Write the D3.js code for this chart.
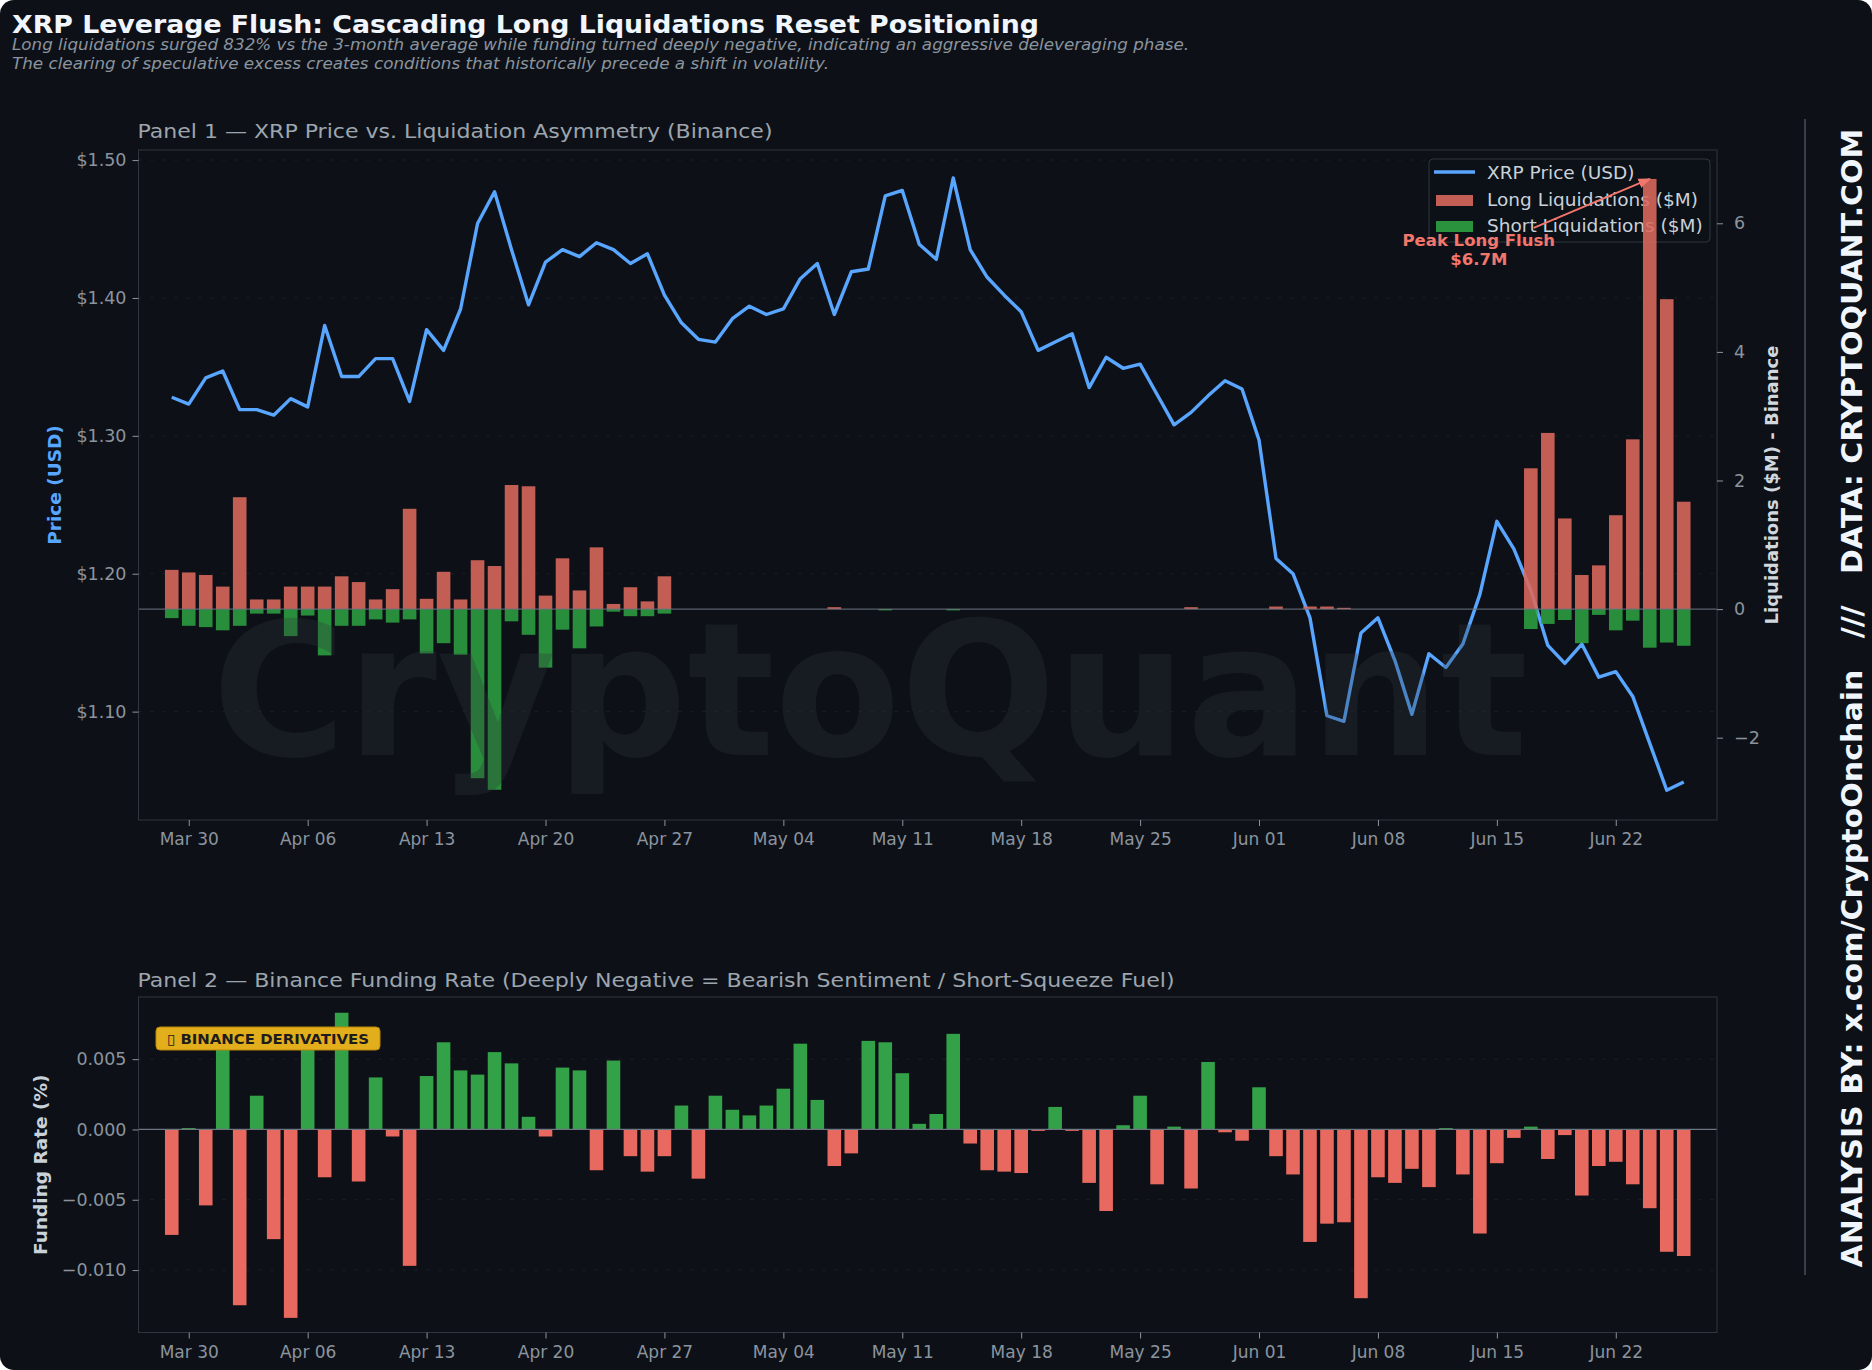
<!DOCTYPE html>
<html>
<head>
<meta charset="utf-8">
<script src="https://cdn.jsdelivr.net/npm/d3@7"></script>
<style>
html, body { margin: 0; padding: 0; background: #fff; }
svg { display: block; }
text { font-family: "DejaVu Sans", sans-serif; }
</style>
</head>
<body>
<svg></svg>
<script>
var w = 1872, h = 1370

// ---- data (daily, Binance) ----
var startDay = "2026-03-29"
var prices = [
    1.328, 1.323, 1.342, 1.347, 1.319, 1.319, 1.315, 1.327, 1.321, 1.380,
    1.343, 1.343, 1.356, 1.356, 1.325, 1.377, 1.362, 1.392, 1.454, 1.477,
    1.435, 1.395, 1.426, 1.435, 1.430, 1.440, 1.435, 1.425, 1.432, 1.402,
    1.382, 1.370, 1.368, 1.385, 1.394, 1.388, 1.392, 1.414, 1.425, 1.388,
    1.419, 1.421, 1.474, 1.478, 1.439, 1.428, 1.487, 1.435, 1.415, 1.402,
    1.390, 1.362, 1.368, 1.374, 1.335, 1.357, 1.349, 1.352, 1.330, 1.308,
    1.317, 1.329, 1.340, 1.334, 1.297, 1.211, 1.200, 1.168, 1.097, 1.093,
    1.157, 1.168, 1.137, 1.098, 1.142, 1.132, 1.149, 1.185, 1.238, 1.218,
    1.188, 1.148, 1.135, 1.149, 1.125, 1.129, 1.111, 1.077, 1.043, 1.049
]
var longLiq = [
    0.61, 0.57, 0.53, 0.35, 1.74, 0.15, 0.15, 0.35, 0.35, 0.35,
    0.51, 0.42, 0.15, 0.31, 1.56, 0.16, 0.58, 0.15, 0.76, 0.67,
    1.93, 1.91, 0.21, 0.79, 0.29, 0.96, 0.08, 0.34, 0.12, 0.51,
    0, 0, 0, 0, 0, 0, 0, 0, 0, 0.03,
    0, 0, 0, 0, 0, 0, 0, 0, 0, 0,
    0, 0, 0, 0, 0, 0, 0, 0, 0, 0,
    0.03, 0, 0, 0, 0, 0.04, 0, 0.04, 0.04, 0.02,
    0, 0, 0, 0, 0, 0, 0, 0, 0, 0,
    2.19, 2.74, 1.41, 0.53, 0.68, 1.46, 2.64, 6.69, 4.82, 1.67
]
var shortLiq = [
    0.14, 0.26, 0.28, 0.33, 0.26, 0.07, 0.07, 0.42, 0.10, 0.72,
    0.26, 0.26, 0.16, 0.21, 0.16, 0.69, 0.53, 0.71, 2.63, 2.81,
    0.19, 0.40, 0.91, 0.32, 0.61, 0.27, 0.04, 0.11, 0.11, 0.07,
    0, 0, 0, 0, 0, 0, 0, 0, 0, 0,
    0, 0, 0.02, 0, 0, 0, 0.02, 0, 0, 0,
    0, 0, 0, 0, 0, 0, 0, 0, 0, 0,
    0, 0, 0, 0, 0, 0, 0, 0, 0, 0,
    0, 0, 0, 0, 0, 0, 0, 0, 0, 0,
    0.31, 0.23, 0.17, 0.53, 0.09, 0.33, 0.18, 0.60, 0.52, 0.57
]
var funding = [
    -0.0075, 0.0001, -0.0054, 0.0065, -0.0125, 0.0024, -0.0078, -0.0134, 0.0062, -0.0034,
    0.0083, -0.0037, 0.0037, -0.0005, -0.0097, 0.0038, 0.0062, 0.0042, 0.0039, 0.0055,
    0.0047, 0.0009, -0.0005, 0.0044, 0.0042, -0.0029, 0.0049, -0.0019, -0.0030, -0.0019,
    0.0017, -0.0035, 0.0024, 0.0014, 0.0010, 0.0017, 0.0029, 0.0061, 0.0021, -0.0026,
    -0.0017, 0.0063, 0.0062, 0.0040, 0.0004, 0.0011, 0.0068, -0.0010, -0.0029, -0.0030,
    -0.0031, -0.0001, 0.0016, -0.0001, -0.0038, -0.0058, 0.0003, 0.0024, -0.0039, 0.0002,
    -0.0042, 0.0048, -0.0002, -0.0008, 0.0030, -0.0019, -0.0032, -0.0080, -0.0067, -0.0066,
    -0.0120, -0.0034, -0.0038, -0.0028, -0.0041, 0.0001, -0.0032, -0.0074, -0.0024, -0.0006,
    0.0002, -0.0021, -0.0004, -0.0047, -0.0026, -0.0023, -0.0039, -0.0056, -0.0087, -0.0090
]
var priceTicks = [1.10, 1.20, 1.30, 1.40, 1.50]
var liqTicks = [-2, 0, 2, 4, 6]
var fundingTicks = [-0.010, -0.005, 0, 0.005]
var legendLabels = ["XRP Price (USD)", "Long Liquidations ($M)", "Short Liquidations ($M)"]
var peakLabel = ["Peak Long Flush", "$6.7M"]

var title = "XRP Leverage Flush: Cascading Long Liquidations Reset Positioning"
var subtitle = [
    "Long liquidations surged 832% vs the 3-month average while funding turned deeply negative, indicating an aggressive deleveraging phase.",
    "The clearing of speculative excess creates conditions that historically precede a shift in volatility."
]
var panel1Title = "Panel 1 \u2014 XRP Price vs. Liquidation Asymmetry (Binance)"
var panel2Title = "Panel 2 \u2014 Binance Funding Rate (Deeply Negative = Bearish Sentiment / Short-Squeeze Fuel)"
var sideText = "ANALYSIS BY: x.com/CryptoOnchain   ///   DATA: CRYPTOQUANT.COM"

// ---- colours ----
var bg = "#0d1117"
var spine = "#30363d"
var tickCol = "#8b949e"
var blue = "#58a6ff"
var longCol = "#dd695f"
var shortCol = "#2fa443"
var fundPos = "#33a148"
var fundNeg = "#e8695f"
var annCol = "#f2766c"

var t0 = d3.utcParse("%Y-%m-%d")(startDay)
var dates = prices.map(function(d, i) { return d3.utcDay.offset(t0, i) })

var p1 = { l: 138.5, r: 1717, t: 150, b: 820 }
var p2 = { l: 138.5, r: 1717, t: 997, b: 1332.5 }

var svg = d3.select("svg")
    .attr("width", w)
    .attr("height", h)

var defs = svg.append("defs")
defs.append("marker")
    .attr("id", "arrowhead")
    .attr("viewBox", "0 0 10 10")
    .attr("refX", 9)
    .attr("refY", 5)
    .attr("markerWidth", 7)
    .attr("markerHeight", 7)
    .attr("orient", "auto")
    .append("path")
        .attr("d", "M0,1 L10,5 L0,9 z")
        .attr("fill", annCol)

svg.append("rect")
    .attr("width", w)
    .attr("height", h)
    .attr("rx", 14)
    .attr("fill", bg)

// ---- scales ----
var x = d3.scaleUtc()
    .domain([d3.utcHour.offset(dates[0], -47), d3.utcHour.offset(dates[dates.length - 1], 47)])
    .range([p1.l, p1.r])
var barW = (x(dates[1]) - x(dates[0])) * 0.8

var yPrice = d3.scaleLinear().domain([1.0214, 1.5073]).range([p1.b, p1.t])
var yLiq = d3.scaleLinear().domain([-3.28, 7.14]).range([p1.b, p1.t])
var yFund = d3.scaleLinear().domain([-0.01444, 0.00942]).range([p2.b, p2.t])

// ---- headings ----
svg.append("text")
    .attr("x", 12).attr("y", 33)
    .attr("font-size", 24).attr("font-weight", "bold")
    .attr("fill", "#f0f6fc")
    .attr("textLength", 1027).attr("lengthAdjust", "spacingAndGlyphs")
    .text(title)

svg.selectAll(".subtitle")
    .data(subtitle)
    .enter().append("text")
    .attr("class", "subtitle")
    .attr("x", 12)
    .attr("y", function(d, i) { return 50 + i * 18.5 })
    .attr("font-size", 15.5).attr("font-style", "italic")
    .attr("fill", "#8b949e")
    .attr("textLength", function(d, i) { return i == 0 ? 1177 : 817 })
    .attr("lengthAdjust", "spacingAndGlyphs")
    .text(function(d) { return d })

svg.append("text")
    .attr("x", 137.5).attr("y", 138)
    .attr("font-size", 20).attr("fill", "#9da5ae")
    .attr("textLength", 635).attr("lengthAdjust", "spacingAndGlyphs")
    .text(panel1Title)

svg.append("text")
    .attr("x", 137.5).attr("y", 987)
    .attr("font-size", 20).attr("fill", "#9da5ae")
    .attr("textLength", 1037).attr("lengthAdjust", "spacingAndGlyphs")
    .text(panel2Title)

// ---- axis helper ----
function style_axis(g, size)
{
    g.select(".domain").remove()
    g.selectAll(".tick line").attr("stroke", tickCol)
    g.selectAll(".tick text")
        .attr("fill", tickCol)
        .attr("font-size", size)
        .attr("font-family", "DejaVu Sans")
}

// ================= PANEL 1 =================
var panel1 = svg.append("g")

// faint grid
panel1.selectAll(".grid1")
    .data(priceTicks)
    .enter().append("line")
    .attr("x1", p1.l).attr("x2", p1.r)
    .attr("y1", function(d) { return yPrice(d) })
    .attr("y2", function(d) { return yPrice(d) })
    .attr("stroke", "#1c2128")
    .attr("stroke-dasharray", "3,9")

var priceLine = d3.line()
    .x(function(d, i) { return x(dates[i]) })
    .y(function(d) { return yPrice(d) })

panel1.append("path")
    .datum(prices)
    .attr("d", priceLine)
    .attr("fill", "none")
    .attr("stroke", blue)
    .attr("stroke-width", 3.4)
    .attr("stroke-linejoin", "round")

// legend (sits under the bars, like the twin axis in the original)
var legend = panel1.append("g").attr("transform", "translate(1429,159)")
legend.append("rect")
    .attr("width", 281).attr("height", 83).attr("rx", 4)
    .attr("fill", bg).attr("fill-opacity", 0.85)
    .attr("stroke", spine)
legend.append("line")
    .attr("x1", 5).attr("x2", 46).attr("y1", 13).attr("y2", 13)
    .attr("stroke", blue).attr("stroke-width", 3.4)
legend.append("rect")
    .attr("x", 7).attr("y", 36).attr("width", 37).attr("height", 11)
    .attr("fill", longCol).attr("fill-opacity", 0.88)
legend.append("rect")
    .attr("x", 7).attr("y", 62).attr("width", 37).attr("height", 11)
    .attr("fill", shortCol).attr("fill-opacity", 0.88)
legend.selectAll(".ltext")
    .data(legendLabels)
    .enter().append("text")
    .attr("x", 58)
    .attr("y", function(d, i) { return 20 + i * 26.5 })
    .attr("font-size", 18.5)
    .attr("fill", "#c9d1d9")
    .text(function(d) { return d })

// liquidation bars
panel1.selectAll(".long")
    .data(longLiq)
    .enter().append("rect")
    .attr("x", function(d, i) { return x(dates[i]) - barW / 2 })
    .attr("y", function(d) { return yLiq(d) })
    .attr("width", barW)
    .attr("height", function(d) { return yLiq(0) - yLiq(d) })
    .attr("fill", longCol)
    .attr("fill-opacity", 0.88)

panel1.selectAll(".short")
    .data(shortLiq)
    .enter().append("rect")
    .attr("x", function(d, i) { return x(dates[i]) - barW / 2 })
    .attr("y", yLiq(0))
    .attr("width", barW)
    .attr("height", function(d) { return yLiq(-d) - yLiq(0) })
    .attr("fill", shortCol)
    .attr("fill-opacity", 0.85)

panel1.append("line")
    .attr("x1", p1.l).attr("x2", p1.r)
    .attr("y1", yLiq(0)).attr("y2", yLiq(0))
    .attr("stroke", "#6e7681").attr("stroke-width", 1)

// watermark over the marks
panel1.append("text")
    .attr("x", 212).attr("y", 755)
    .attr("font-size", 186).attr("font-weight", "bold")
    .attr("fill", "#30363d").attr("fill-opacity", 0.3)
    .attr("textLength", 1316).attr("lengthAdjust", "spacingAndGlyphs")
    .text("CryptoQuant")

// peak annotation
var peakIdx = longLiq.indexOf(d3.max(longLiq))
var px = x(dates[peakIdx]), py = yLiq(longLiq[peakIdx])
panel1.append("line")
    .attr("x1", px - 116).attr("y1", py + 49)
    .attr("x2", px).attr("y2", py)
    .attr("stroke", annCol).attr("stroke-width", 1.8)
    .attr("marker-end", "url(#arrowhead)")
panel1.selectAll(".peak")
    .data(peakLabel)
    .enter().append("text")
    .attr("x", px - 171)
    .attr("y", function(d, i) { return py + 67 + i * 19 })
    .attr("text-anchor", "middle")
    .attr("font-size", 16.5).attr("font-weight", "bold")
    .attr("fill", annCol)
    .text(function(d) { return d })

// frame
panel1.append("rect")
    .attr("x", p1.l).attr("y", p1.t)
    .attr("width", p1.r - p1.l).attr("height", p1.b - p1.t)
    .attr("fill", "none").attr("stroke", spine)

// axes
var xAxis1 = panel1.append("g")
    .attr("transform", "translate(0," + p1.b + ")")
    .call(d3.axisBottom(x).ticks(d3.utcMonday.every(1)).tickFormat(d3.utcFormat("%b %d")).tickSize(6).tickPadding(7))
style_axis(xAxis1, 17)

var yAxis1 = panel1.append("g")
    .attr("transform", "translate(" + p1.l + ",0)")
    .call(d3.axisLeft(yPrice).tickValues(priceTicks).tickFormat(d3.format("$.2f")).tickSize(6).tickPadding(6))
style_axis(yAxis1, 17.5)

var yAxis1r = panel1.append("g")
    .attr("transform", "translate(" + p1.r + ",0)")
    .call(d3.axisRight(yLiq).tickValues(liqTicks).tickFormat(d3.format("d")).tickSize(6).tickPadding(11))
style_axis(yAxis1r, 17.5)

panel1.append("text")
    .attr("transform", "translate(54," + (p1.t + p1.b) / 2 + ") rotate(-90)")
    .attr("text-anchor", "middle").attr("dominant-baseline", "central")
    .attr("font-size", 18.5).attr("font-weight", "bold")
    .attr("fill", blue)
    .text("Price (USD)")

panel1.append("text")
    .attr("transform", "translate(1771," + (p1.t + p1.b) / 2 + ") rotate(-90)")
    .attr("text-anchor", "middle").attr("dominant-baseline", "central")
    .attr("font-size", 18).attr("font-weight", "bold")
    .attr("fill", "#d0d7de")
    .text("Liquidations ($M) - Binance")

// ================= PANEL 2 =================
var panel2 = svg.append("g")

panel2.selectAll(".grid2")
    .data(fundingTicks)
    .enter().append("line")
    .attr("x1", p2.l).attr("x2", p2.r)
    .attr("y1", function(d) { return yFund(d) })
    .attr("y2", function(d) { return yFund(d) })
    .attr("stroke", "#1c2128")
    .attr("stroke-dasharray", "3,9")

panel2.selectAll(".fund")
    .data(funding)
    .enter().append("rect")
    .attr("x", function(d, i) { return x(dates[i]) - barW / 2 })
    .attr("y", function(d) { return yFund(Math.max(d, 0)) })
    .attr("width", barW)
    .attr("height", function(d) { return Math.abs(yFund(d) - yFund(0)) })
    .attr("fill", function(d) { return d >= 0 ? fundPos : fundNeg })

panel2.append("line")
    .attr("x1", p2.l).attr("x2", p2.r)
    .attr("y1", yFund(0)).attr("y2", yFund(0))
    .attr("stroke", "#6e7681").attr("stroke-width", 1.2)

panel2.append("rect")
    .attr("x", p2.l).attr("y", p2.t)
    .attr("width", p2.r - p2.l).attr("height", p2.b - p2.t)
    .attr("fill", "none").attr("stroke", spine)

var xAxis2 = panel2.append("g")
    .attr("transform", "translate(0," + p2.b + ")")
    .call(d3.axisBottom(x).ticks(d3.utcMonday.every(1)).tickFormat(d3.utcFormat("%b %d")).tickSize(6).tickPadding(7))
style_axis(xAxis2, 17)

var yAxis2 = panel2.append("g")
    .attr("transform", "translate(" + p2.l + ",0)")
    .call(d3.axisLeft(yFund).tickValues(fundingTicks).tickFormat(d3.format(".3f")).tickSize(6).tickPadding(6))
style_axis(yAxis2, 17.5)

panel2.append("text")
    .attr("transform", "translate(40," + (p2.t + p2.b) / 2 + ") rotate(-90)")
    .attr("text-anchor", "middle").attr("dominant-baseline", "central")
    .attr("font-size", 18.5).attr("font-weight", "bold")
    .attr("fill", "#c9d1d9")
    .text("Funding Rate (%)")

// badge
var badge = panel2.append("g").attr("transform", "translate(156,1027)")
badge.append("rect")
    .attr("width", 224).attr("height", 23).attr("rx", 4)
    .attr("fill", "#e3ae1c").attr("stroke", "#b8860b")
badge.append("text")
    .attr("x", 11).attr("y", 17)
    .attr("font-size", 14).attr("font-weight", "bold")
    .attr("fill", "#1c1c1c")
    .attr("textLength", 202).attr("lengthAdjust", "spacingAndGlyphs")
    .text("\u25AF BINANCE DERIVATIVES")

// ---- right-hand credit ----
svg.append("line")
    .attr("x1", 1805).attr("x2", 1805)
    .attr("y1", 119).attr("y2", 1275)
    .attr("stroke", "#484f58").attr("stroke-width", 1.5)

svg.append("text")
    .attr("transform", "translate(1852,698) rotate(-90)")
    .attr("text-anchor", "middle").attr("dominant-baseline", "central")
    .attr("font-size", 28).attr("font-weight", "bold")
    .attr("fill", "#f0f6fc")
    .style("white-space", "pre")
    .attr("textLength", 1139).attr("lengthAdjust", "spacingAndGlyphs")
    .text(sideText)
</script>
</body>
</html>
